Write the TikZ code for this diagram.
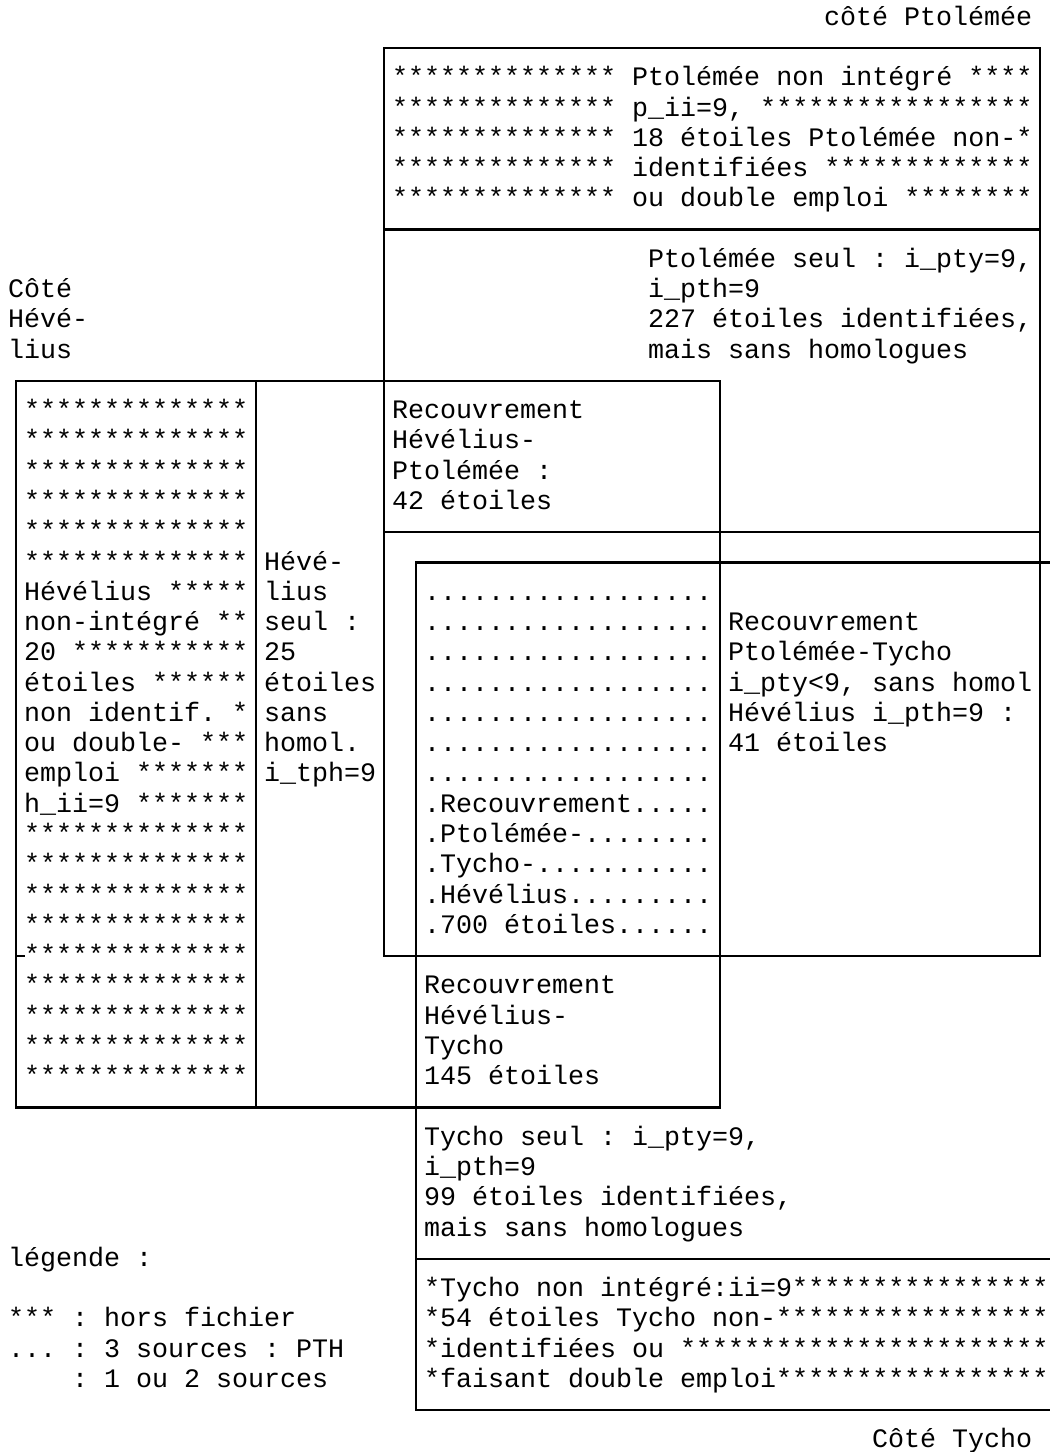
\documentclass[tikz,border=0pt]{standalone}
\usepackage{fontspec}
\newfontfamily\monof{Liberation Mono}
\newcommand\TL[4]{\node[txt] (#1) at ({tx(#2)},{ty(#3)}) {#4};}
\begin{document}
\frenchspacing
\begin{tikzpicture}[x=1pt,y=-1pt,
  declare function={cx(\c)=16+16*\c; ry(\r)=17.7+30.27*\r; tx(\c)=8+16*\c; ty(\r)=25.2+30.27*\r;},
  txt/.style={anchor=base west, inner sep=0pt, font=\monof\fontsize{26.67}{30.27}\selectfont},
  frame/.style={line width=2.2pt, line cap=rect}]
\clip (0,0) rectangle (1050,1452);
\fill[white] (0,0) rectangle (1050,1452);
% ---------- frames ----------
\draw[frame] ({cx(23)},{ry(1)}) rectangle ({cx(64)},{ry(31)});
\draw[frame] ({cx(23)},{ry(7)}) -- ({cx(64)},{ry(7)});
\draw[frame] ({cx(23)},{ry(17)}) -- ({cx(64)},{ry(17)});
\draw[frame] ({cx(0)},{ry(12)}) rectangle ({cx(44)},{ry(36)});
\draw[frame] ({cx(15)},{ry(12)}) -- ({cx(15)},{ry(36)});
\draw[frame] (1070,{ry(18)}) -- ({cx(25)},{ry(18)}) -- ({cx(25)},{ry(46)}) -- (1070,{ry(46)});
\draw[frame] ({cx(25)},{ry(41)}) -- (1070,{ry(41)});
\draw[frame] ({cx(0)},{ry(31)}) -- ({cx(0)+8},{ry(31)});
% ---------- Ptolemee side ----------
\TL{cp}{51}{0}{côté Ptolémée}
\TL{pa}{24}{2}{************** Ptolémée non intégré ****}
\TL{pb}{24}{3}{************** p\_ii=9, *****************}
\TL{pc}{24}{4}{************** 18 étoiles Ptolémée non-*}
\TL{pd}{24}{5}{************** identifiées *************}
\TL{pe}{24}{6}{************** ou double emploi ********}
\TL{ps1}{40}{8}{Ptolémée seul : i\_pty=9,}
\TL{ps2}{40}{9}{i\_pth=9}
\TL{ps3}{40}{10}{227 étoiles identifiées,}
\TL{ps4}{40}{11}{mais sans homologues}
% ---------- Hevelius side ----------
\TL{ch1}{0}{9}{Côté}
\TL{ch2}{0}{10}{Hévé-}
\TL{ch3}{0}{11}{lius}
\foreach \r in {13,...,18} {\node[txt] (hs\r) at ({tx(1)},{ty(\r)}) {**************};}
\TL{hn1}{1}{19}{Hévélius *****}
\TL{hn2}{1}{20}{non-intégré **}
\TL{hn3}{1}{21}{20 ***********}
\TL{hn4}{1}{22}{étoiles ******}
\TL{hn5}{1}{23}{non identif. *}
\TL{hn6}{1}{24}{ou double- ***}
\TL{hn7}{1}{25}{emploi *******}
\TL{hn8}{1}{26}{h\_ii=9 *******}
\foreach \r in {27,...,35} {\node[txt] (hs\r) at ({tx(1)},{ty(\r)}) {**************};}
\TL{ho1}{16}{18}{Hévé-}
\TL{ho2}{16}{19}{lius}
\TL{ho3}{16}{20}{seul :}
\TL{ho4}{16}{21}{25}
\TL{ho5}{16}{22}{étoiles}
\TL{ho6}{16}{23}{sans}
\TL{ho7}{16}{24}{homol.}
\TL{ho8}{16}{25}{i\_tph=9}
% ---------- overlaps ----------
\TL{hp1}{24}{13}{Recouvrement}
\TL{hp2}{24}{14}{Hévélius-}
\TL{hp3}{24}{15}{Ptolémée :}
\TL{hp4}{24}{16}{42 étoiles}
\foreach \r in {19,...,25} {\node[txt] (td\r) at ({tx(26)},{ty(\r)}) {..................};}
\TL{tr1}{26}{26}{.Recouvrement.....}
\TL{tr2}{26}{27}{.Ptolémée-........}
\TL{tr3}{26}{28}{.Tycho-...........}
\TL{tr4}{26}{29}{.Hévélius.........}
\TL{tr5}{26}{30}{.700 étoiles......}
\TL{pt1}{45}{20}{Recouvrement}
\TL{pt2}{45}{21}{Ptolémée-Tycho}
\TL{pt3}{45}{22}{i\_pty<9, sans homol}
\TL{pt4}{45}{23}{Hévélius i\_pth=9 :}
\TL{pt5}{45}{24}{41 étoiles}
\TL{ht1}{26}{32}{Recouvrement}
\TL{ht2}{26}{33}{Hévélius-}
\TL{ht3}{26}{34}{Tycho}
\TL{ht4}{26}{35}{145 étoiles}
% ---------- Tycho side ----------
\TL{ts1}{26}{37}{Tycho seul : i\_pty=9,}
\TL{ts2}{26}{38}{i\_pth=9}
\TL{ts3}{26}{39}{99 étoiles identifiées,}
\TL{ts4}{26}{40}{mais sans homologues}
\TL{tn1}{26}{42}{*Tycho non intégré:ii=9****************}
\TL{tn2}{26}{43}{*54 étoiles Tycho non-*****************}
\TL{tn3}{26}{44}{*identifiées ou ***********************}
\TL{tn4}{26}{45}{*faisant double emploi*****************}
\TL{ct}{54}{47}{Côté Tycho}
% ---------- legend ----------
\TL{lg1}{0}{41}{légende :}
\TL{lg2}{0}{43}{*** : hors fichier}
\TL{lg3}{0}{44}{... : 3 sources : PTH}
\TL{lg4}{4}{45}{: 1 ou 2 sources}
\end{tikzpicture}
\end{document}
